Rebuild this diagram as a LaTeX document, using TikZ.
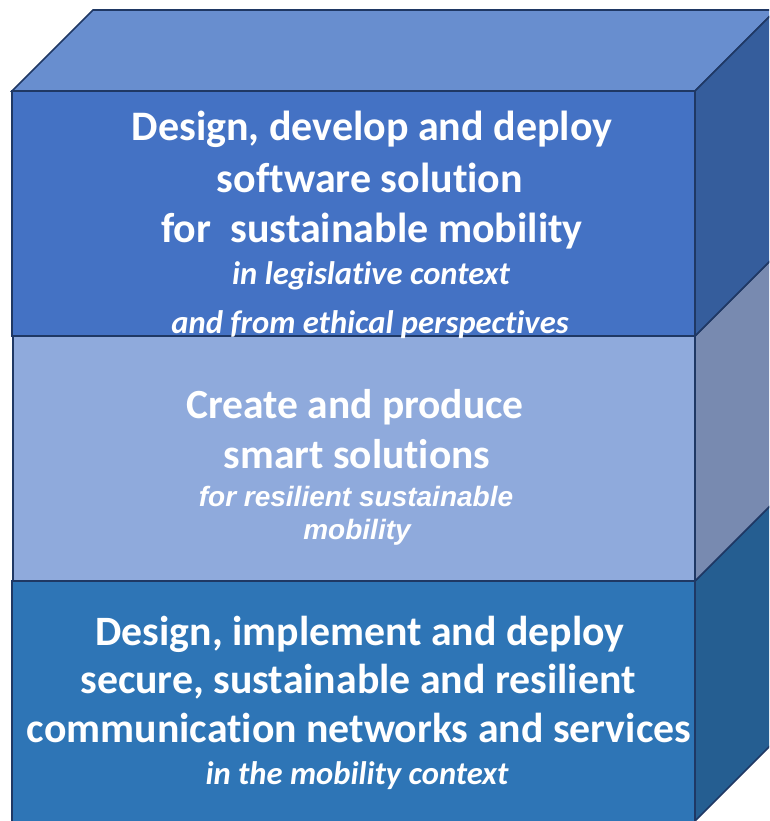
\documentclass[tikz,border=0pt]{standalone}
\usepackage{fontspec}
\setmainfont{Carlito}[Ligatures={NoCommon,NoContextual}]
\newfontfamily\arialfont{Liberation Sans}
\definecolor{edgec}{HTML}{1F3864}
\definecolor{topfront}{HTML}{4472C4}
\definecolor{toptop}{HTML}{688ECF}
\definecolor{topside}{HTML}{355D9C}
\definecolor{midfront}{HTML}{8FAADC}
\definecolor{midside}{HTML}{788AB0}
\definecolor{botfront}{HTML}{2E75B6}
\definecolor{botside}{HTML}{255E91}
\tikzset{
  face/.style={draw=edgec,line width=1.6pt,line join=miter},
  big/.style={text=white,anchor=base,inner sep=0pt,font=\fontsize{42}{50}\selectfont\bfseries},
  bigm/.style={text=white,anchor=base,inner sep=0pt,font=\fontsize{41.5}{50}\selectfont\bfseries},
  bigb/.style={text=white,anchor=base,inner sep=0pt,font=\fontsize{41.8}{50}\selectfont\bfseries},
  ital/.style={text=white,anchor=base,inner sep=0pt,font=\fontsize{32.6}{38}\selectfont\bfseries\itshape},
  itala/.style={text=white,anchor=base,inner sep=0pt,font=\fontsize{28}{34}\selectfont\arialfont\bfseries\itshape},
}
\begin{document}
\begin{tikzpicture}[x=1pt,y=-1pt]
\useasboundingbox (0,0) rectangle (769,821);
\clip (0,0) rectangle (769,821);
% bottom block
\draw[face,fill=botside] (695,581) -- (776,500) -- (776,740) -- (695,821) -- cycle;
\draw[face,fill=botfront] (12,581) rectangle (695,822);
% middle block
\draw[face,fill=midside] (695,336) -- (776,255) -- (776,500) -- (695,581) -- cycle;
\draw[face,fill=midfront] (13,336) rectangle (695,581);
% top block
\draw[face,fill=toptop] (12,91) -- (93,10) -- (776,10) -- (695,91) -- cycle;
\draw[face,fill=topside] (695,91) -- (776,10) -- (776,255) -- (695,336) -- cycle;
\draw[face,fill=topfront] (12,91) rectangle (695,336);
% top text
\node[big] (t1) at (372,141) {Design, develop and deploy};
\node[big] (t2) at (370,193) {software solution};
\node[big] (t3) at (372,242) {for\ \ sustainable mobility};
\node[ital] (t4) at (371,284) {in legislative context};
\node[ital] (t5) at (370,333) {and from ethical perspectives};
% middle text
\node[bigm] (m1) at (355,418) {Create and produce};
\node[bigm] (m2) at (357,468) {smart solutions};
\node[itala] (m3) at (356,506) {for resilient sustainable};
\node[itala] (m4) at (357,539) {mobility};
% bottom text
\node[bigb] (b1) at (360,645) {Design, implement and deploy};
\node[bigb] (b2) at (358,693) {secure, sustainable and resilient};
\node[bigb] (b3) at (359,742) {communication networks and services};
\node[ital] (b4) at (357,784) {in the mobility context};
\end{tikzpicture}
\end{document}
